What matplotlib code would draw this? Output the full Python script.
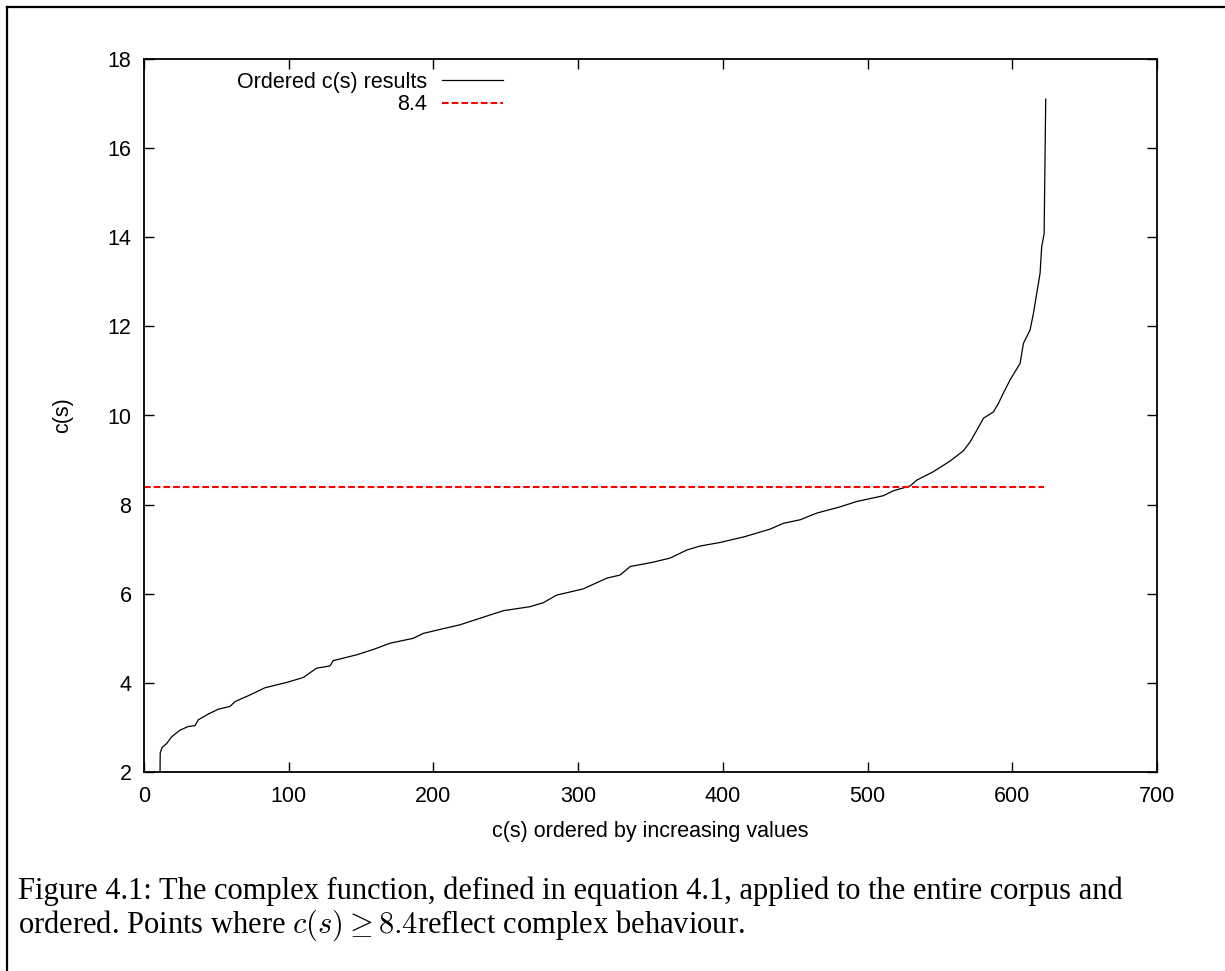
import matplotlib
matplotlib.use("Agg")
import matplotlib.pyplot as plt
from matplotlib.lines import Line2D

# ---- data ----
order_x = [10.8, 11.2, 12.5, 15.7, 19.1, 24.9, 30.6, 35.2, 37.5, 44.4, 51.4, 59.4, 62.9,
           73.3, 83.6, 98.6, 110.0, 119.3, 128.5, 130.8, 147.0, 158.5, 170.0, 186.0,
           193.0, 204.6, 218.0, 232.2, 248.3, 266.8, 276.0, 285.2, 303.6, 319.8, 329.0,
           335.9, 352.0, 363.5, 375.0, 384.2, 398.0, 415.0, 432.6, 441.8, 453.4, 464.9,
           481.0, 492.5, 510.9, 517.8, 529.4, 534.0, 545.5, 557.1, 566.3, 570.9, 575.5,
           580.1, 587.0, 590.4, 593.8, 598.5, 605.4, 607.7, 612.3, 614.6, 616.9, 619.2,
           620.3, 622.0, 623.1]
order_y = [1.0, 2.43, 2.55, 2.64, 2.79, 2.94, 3.02, 3.04, 3.17, 3.30, 3.41, 3.47, 3.58,
           3.73, 3.89, 4.01, 4.12, 4.33, 4.38, 4.50, 4.63, 4.75, 4.89, 5.00,
           5.11, 5.20, 5.30, 5.45, 5.62, 5.71, 5.80, 5.97, 6.11, 6.35, 6.42,
           6.61, 6.71, 6.80, 6.98, 7.07, 7.15, 7.28, 7.45, 7.58, 7.66, 7.81,
           7.95, 8.07, 8.20, 8.31, 8.42, 8.55, 8.74, 8.98, 9.21, 9.41, 9.67,
           9.94, 10.08, 10.27, 10.50, 10.80, 11.17, 11.62, 11.92, 12.29, 12.74, 13.19,
           13.78, 14.08, 17.10]
threshold = 8.4
threshold_x = [0, 622]
x_ticks = [0, 100, 200, 300, 400, 500, 600, 700]
y_ticks = [2, 4, 6, 8, 10, 12, 14, 16, 18]

plt.rcParams['font.family'] = ['Liberation Sans', 'DejaVu Sans']
plt.rcParams['mathtext.fontset'] = 'cm'
plt.rcParams['lines.scale_dashes'] = False

fig = plt.figure(figsize=(12.25, 9.71), dpi=100)
W, H = 1225, 971
ax = fig.add_axes([144 / W, 1 - 772 / H, (1157 - 144) / W, (772 - 59) / H])

ax.plot(order_x, order_y, color='black', lw=0.9, label='Ordered c(s) results')
ax.plot(threshold_x, [threshold, threshold], color='#ff0000', lw=1.5,
        dashes=(4.8, 2.2), label='8.4')

ax.set_xlim(0, 700)
ax.set_ylim(2, 18)
ax.set_xticks(x_ticks)
ax.set_yticks(y_ticks)
ax.tick_params(direction='in', length=7, width=1, top=True, right=True,
               labelsize=15.5)
ax.tick_params(axis='x', pad=10)
ax.tick_params(axis='y', pad=9)
for s in ax.spines.values():
    s.set_linewidth(1.3)

ax.set_xlabel('c(s) ordered by increasing values', fontsize=15.5, labelpad=10)
ax.set_ylabel('c(s)', fontsize=15.5, labelpad=25)

leg = ax.legend(loc='upper right', bbox_to_anchor=((503 - 144) / 1013, (772 - 72) / 713),
                frameon=False, markerfirst=False, fontsize=15.5, borderpad=0,
                handlelength=2.84, handletextpad=0.68, labelspacing=0.05,
                borderaxespad=0)

# page frame
fig.add_artist(Line2D([7 / W, 7 / W], [0, 1 - 7 / H], transform=fig.transFigure,
                      color='black', lw=1.6))
fig.add_artist(Line2D([7 / W, 1], [1 - 7 / H, 1 - 7 / H], transform=fig.transFigure,
                      color='black', lw=1.6))

cap_font = ['Liberation Serif', 'DejaVu Serif']
fig.text(18 / W, 1 - 891 / H,
         'Figure 4.1: The complex function, defined in equation 4.1, applied to the entire corpus and',
         family=cap_font, fontsize=22, va='center', ha='left')
fig.text(18 / W, 1 - 925 / H,
         r'ordered. Points where $c(s) \geq 8.4$reflect complex behaviour.',
         family=cap_font, fontsize=22, va='center', ha='left')

fig.savefig('out.png', dpi=100)
